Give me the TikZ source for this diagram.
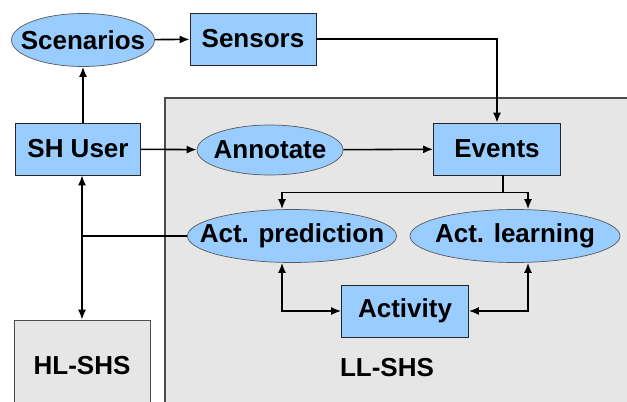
\documentclass[tikz,border=0pt]{standalone}
\usepackage{fontspec}
\setmainfont{Liberation Sans}
\usetikzlibrary{shapes.geometric,positioning,arrows.meta,calc}
\definecolor{nodeblue}{HTML}{99CCFF}
\definecolor{regiongray}{HTML}{E6E6E6}

\begin{document}
\begin{tikzpicture}[
  box/.style={rectangle, draw=black!85, fill=nodeblue, font=\fontsize{14.8}{17}\selectfont\bfseries, inner sep=0pt, minimum width=2.52cm, minimum height=1.04cm},
  oval/.style={ellipse, draw=black!65, fill=nodeblue, font=\fontsize{14.8}{17}\selectfont\bfseries, inner xsep=-0.5cm, inner ysep=0pt, minimum height=1.06cm},
  arrow/.style={-{Latex[length=2mm, width=1.6mm]}, line width=0.9pt},
  biarrow/.style={{Latex[length=2mm, width=1.6mm]}-{Latex[length=2mm, width=1.6mm]}, line width=0.9pt},
  link/.style={line width=0.9pt},
]
\useasboundingbox (0,0) rectangle (12.54,8.02);

% === LL-SHS region ===
\filldraw[fill=regiongray, draw=black!70, line width=0.7pt] (3.30,-0.2) rectangle (12.8,6.06);
\node[font=\fontsize{14.8}{17}\selectfont\bfseries] (lltext) at (7.74,0.66) {LL-SHS};

% === HL-SHS ===
\node[rectangle, draw=black!70, fill=regiongray, font=\fontsize{14.8}{17}\selectfont\bfseries, minimum width=2.72cm, minimum height=1.84cm] (hl) at (1.64,0.70) {HL-SHS};

% === nodes ===
\node[oval, minimum width=2.86cm] (scen) at (1.66,7.22) {Scenarios};
\node[box] (sens) at (5.06,7.24) {Sensors};
\node[box, minimum width=2.5cm] (user) at (1.56,5.04) {SH User};
\node[oval, minimum width=2.92cm, minimum height=1.0cm] (annot) at (5.40,5.02) {Annotate};
\node[box, minimum width=2.54cm] (ev) at (9.94,5.04) {Events};
\node[oval, minimum width=4.18cm] (pred) at (5.84,3.30) {Act. prediction};
\node[oval, minimum width=4.2cm] (learn) at (10.30,3.30) {Act. learning};
\node[box, minimum width=2.54cm] (act) at (8.10,1.80) {Activity};

% === connectors ===
\draw[arrow] (scen.south |- user.north) -- (scen.south);
\draw[arrow] (scen) -- (sens);
\draw[arrow] (sens.east) -| (ev.north);
\draw[arrow] (user) -- (annot);
\draw[arrow] (annot) -- (ev);

\coordinate (split) at ($(ev.south)+(0.12,-0.34)$);
\draw[link] ([xshift=0.12cm]ev.south) -- (split);
\draw[arrow] (split) -| ([xshift=-0.2cm]pred.north);
\draw[arrow] (split) -| ([xshift=0.26cm]learn.south |- learn.north);

\draw[biarrow] (user.south -| hl.north) -- (hl.north);
\draw[link] (pred.west) -- (pred.west -| hl.north);

\draw[biarrow] ([xshift=-0.2cm]pred.south) |- (act.west);
\draw[biarrow] ([xshift=0.26cm]learn.south) |- (act.east);

\end{tikzpicture}
\end{document}
